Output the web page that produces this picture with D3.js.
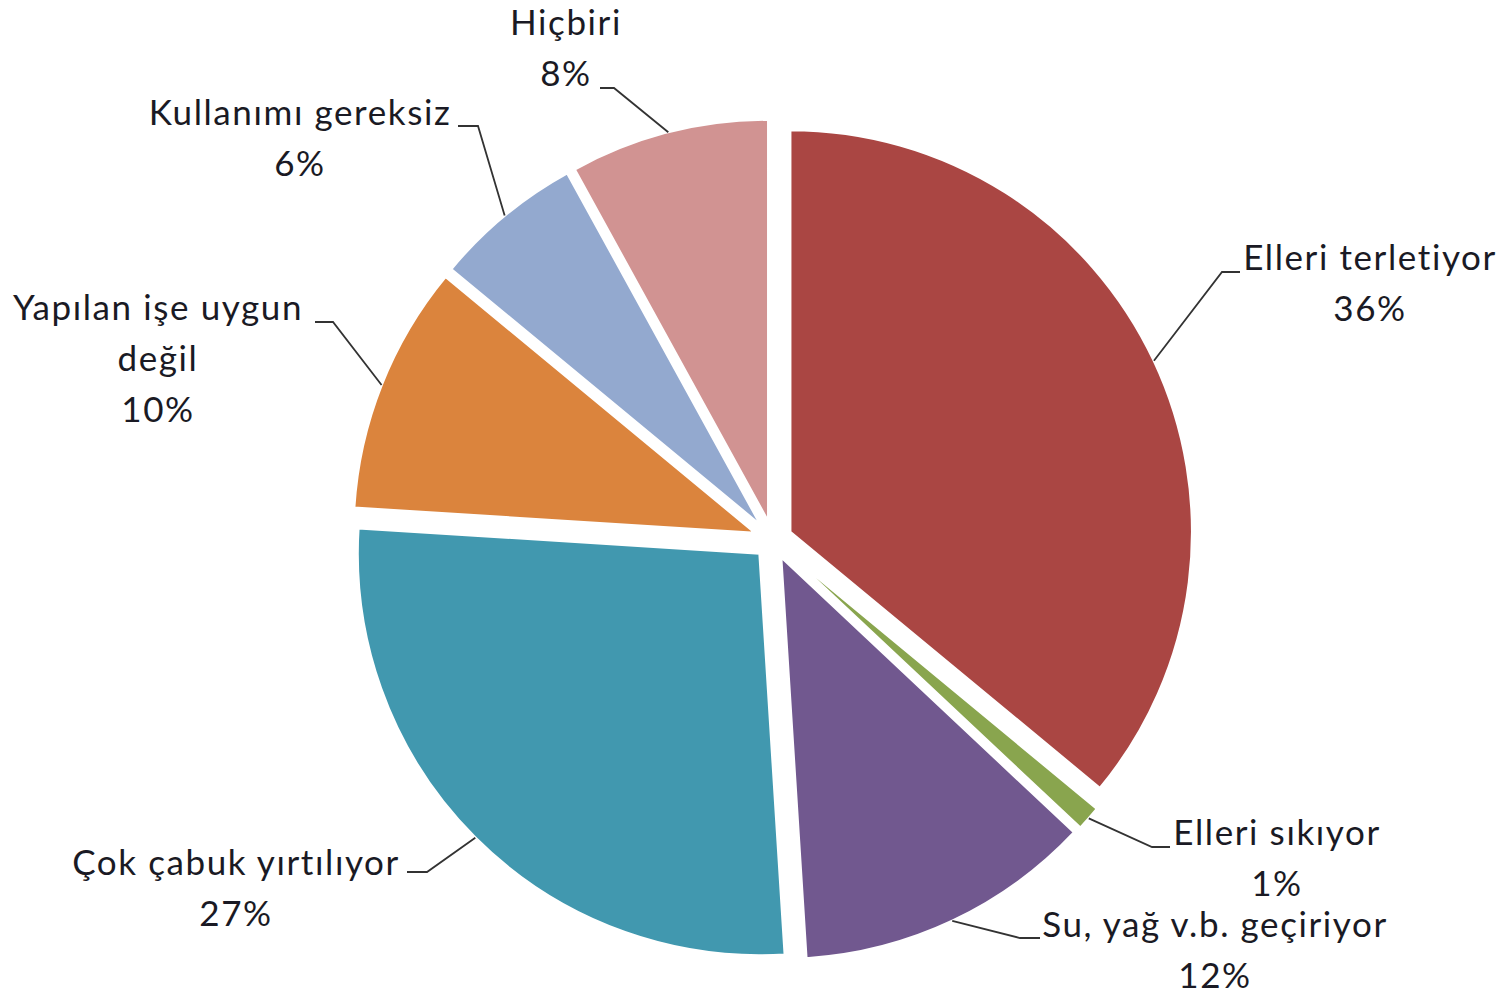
<!DOCTYPE html>
<html>
<head>
<meta charset="utf-8">
<script src="https://cdn.jsdelivr.net/npm/d3@7"></script>
<style>
    html, body { margin: 0; padding: 0; background: #fff; }
    #chart { width: 1510px; height: 997px; }
</style>
</head>
<body>
<div id="chart"></div>
<script>
// Données (sens horaire à partir de midi)
const categories = ["Elleri terletiyor", "Elleri sıkıyor", "Su, yağ v.b. geçiriyor", "Çok çabuk yırtılıyor",
    "Yapılan işe uygun\ndeğil", "Kullanımı gereksiz", "Hiçbiri"];
const values = [36, 1, 12, 27, 10, 6, 8];
const colors = ["#AA4643", "#89A54E", "#71588F", "#4198AF", "#DB843D", "#93A9CF", "#D19392"];

// Placement des étiquettes : centre du texte, première ligne de base, coude du trait, fin du trait horizontal
const labelLayout = [
    {x: 1370, y: 270, bx: 1222, by: 272, tx: 1240},
    {x: 1277, y: 845, bx: 1152, by: 847, tx: 1170},
    {x: 1215, y: 937, bx: 1020, by: 938, tx: 1040},
    {x: 236, y: 875, bx: 427, by: 872, tx: 407},
    {x: 158, y: 320, bx: 333, by: 322, tx: 315},
    {x: 300, y: 125, bx: 478, by: 126, tx: 458},
    {x: 566, y: 35, bx: 614, by: 88, tx: 600}
];

const width = 1510,
    height = 997,
    cx = 773,
    cy = 540,
    radius = 402,
    explode = 19,
    lineHeight = 51;

const svg = d3.select("#chart").append("svg")
    .attr("width", width)
    .attr("height", height);

const pie = d3.pie()
    .sort(null)
    .value(d => d)
    .startAngle(0)
    .endAngle(2 * Math.PI);

const arc = d3.arc().innerRadius(0).outerRadius(radius);
const edgeArc = d3.arc().innerRadius(radius).outerRadius(radius);

const arcs = pie(values);

const offset = d => {
    const mid = (d.startAngle + d.endAngle) / 2;
    return [Math.sin(mid) * explode, -Math.cos(mid) * explode];
};

const g = svg.append("g")
    .attr("transform", "translate(" + cx + "," + cy + ")");

g.selectAll("path.slice")
    .data(arcs)
    .enter().append("path")
    .attr("class", "slice")
    .attr("transform", d => "translate(" + offset(d) + ")")
    .attr("d", arc)
    .style("fill", (d, i) => colors[i])
    .style("stroke", "#fff")
    .style("stroke-width", 2.5);

// Traits de rappel
svg.selectAll("path.leader")
    .data(arcs)
    .enter().append("path")
    .attr("class", "leader")
    .attr("d", (d, i) => {
        const o = offset(d), p = edgeArc.centroid(d), L = labelLayout[i];
        const sx = cx + o[0] + p[0], sy = cy + o[1] + p[1];
        return "M" + sx + "," + sy + "L" + L.bx + "," + L.by + "H" + L.tx;
    })
    .style("fill", "none")
    .style("stroke", "#333")
    .style("stroke-width", 1.8);

// Étiquettes
const labels = svg.selectAll("text.label")
    .data(arcs)
    .enter().append("text")
    .attr("class", "label")
    .attr("text-anchor", "middle")
    .style("font-family", "Lato, 'Open Sans', sans-serif")
    .style("font-size", "35px")
    .style("letter-spacing", "1.6px")
    .style("fill", "#1a1a24");

labels.each(function(d, i) {
    const L = labelLayout[i];
    const lines = categories[i].split("\n").concat([Math.round(values[i]) + "%"]);
    d3.select(this).selectAll("tspan")
        .data(lines)
        .enter().append("tspan")
        .attr("x", L.x)
        .attr("y", (t, k) => L.y + k * lineHeight)
        .text(t => t);
});
</script>
</body>
</html>
